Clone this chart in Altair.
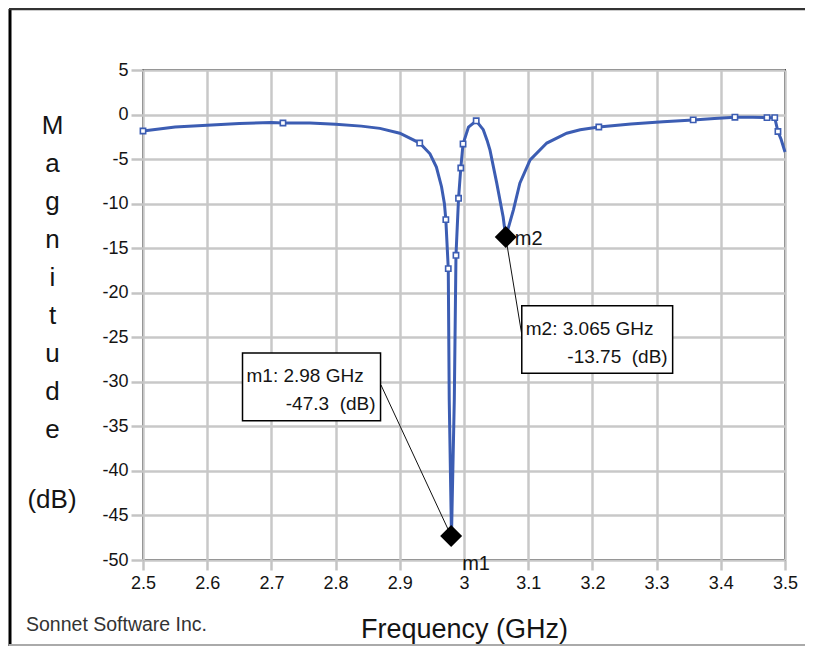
import altair as alt
import pandas as pd

# ---- trace data ----
freq_ghz = [2.5, 2.55, 2.6, 2.65, 2.7, 2.718, 2.76, 2.8, 2.84, 2.869, 2.9, 2.931,
            2.947, 2.957, 2.965, 2.9695, 2.9717, 2.9755, 2.977, 2.9805, 2.9849,
            2.9875, 2.9915, 2.995, 2.9985, 3.007, 3.019, 3.03, 3.036, 3.0405,
            3.051, 3.061, 3.065, 3.077, 3.087, 3.103, 3.129, 3.16, 3.181, 3.21,
            3.26, 3.31, 3.357, 3.39, 3.422, 3.45, 3.472, 3.484, 3.489, 3.494, 3.5]
mag_db = [-1.85, -1.4, -1.2, -1.0, -0.9, -0.95, -0.95, -1.1, -1.3, -1.55, -2.1, -3.2,
          -4.4, -5.9, -8.1, -10.0, -11.8, -17.3, -32.0, -47.3, -32.0,
          -15.8, -9.4, -6.0, -3.3, -1.4, -0.7, -1.7, -2.9, -4.0,
          -7.7, -11.5, -13.75, -10.7, -7.7, -5.1, -3.2, -2.1, -1.7, -1.4,
          -1.05, -0.8, -0.6, -0.45, -0.3, -0.3, -0.35, -0.35, -1.9, -2.8, -4.2]
has_marker = [True, False, False, False, False, True, False, False, False, False, False, True,
              False, False, False, False, True, True, False, False, False,
              True, True, True, True, False, True, False, False, False,
              False, False, False, False, False, False, False, False, False, True,
              False, False, True, False, True, False, True, True, True, False, False]

x_tick_values = [2.5, 2.6, 2.7, 2.8, 2.9, 3.0, 3.1, 3.2, 3.3, 3.4, 3.5]
y_tick_values = [-50, -45, -40, -35, -30, -25, -20, -15, -10, -5, 0, 5]

# ---- markers ----
marker_names = ["m1", "m2"]
marker_freq = [2.98, 3.065]
marker_db = [-47.3, -13.75]
marker_line1 = ["m1: 2.98 GHz", "m2: 3.065 GHz"]
marker_line2 = ["-47.3\u00a0\u00a0(dB)", "-13.75\u00a0\u00a0(dB)"]

# annotation boxes (data coordinates) and connector start points
box_f0 = [2.655, 3.090]
box_f1 = [2.870, 3.325]
box_db_top = [-26.77, -21.46]
box_db_bot = [-34.37, -29.05]
conn_f = [2.8707, 3.0896]
conn_db = [-30.36, -24.52]

BLUE = "#3c5db3"
FONT = "Liberation Sans"
TXT = "#141414"

df = pd.DataFrame({"f": freq_ghz, "db": mag_db, "mk": has_marker})
mk = pd.DataFrame({"name": marker_names, "f": marker_freq, "db": marker_db,
                   "l1": marker_line1, "l2": marker_line2,
                   "bf0": box_f0, "bf1": box_f1, "bt": box_db_top, "bb": box_db_bot,
                   "cf": conn_f, "cdb": conn_db})
one = pd.DataFrame({"k": [0]})

xs = alt.Scale(domain=[2.5, 3.5], nice=False, zero=False)
ys = alt.Scale(domain=[-50, 5], nice=False, zero=False)

X_TITLE = "Frequency (GHz)"
Y_TITLE = ["M", "a", "g", "n", "i", "t", "u", "d", "e"]
Y_UNIT = "(dB)"

x_axis = alt.Axis(values=x_tick_values, labelExpr="'' + datum.value", title=X_TITLE,
                  titleFontSize=27, titleFont=FONT, titleFontWeight="normal", titleColor=TXT,
                  titleY=69, titleBaseline="middle",
                  labelFontSize=18, labelFont=FONT, labelColor=TXT, labelPadding=4,
                  labelFlush=False, labelOverlap=False,
                  tickSize=10, tickColor="#c4c4c4", tickWidth=2.5,
                  grid=True, gridColor="#c8c8c8", gridWidth=2.5, domain=False)
y_axis = alt.Axis(values=y_tick_values, labelExpr="'' + datum.value", title=Y_TITLE,
                  titleAngle=0, titleX=-91, titleY=55, titleAlign="center",
                  titleBaseline="middle", titleLineHeight=38,
                  titleFontSize=26, titleFont=FONT, titleFontWeight="normal", titleColor=TXT,
                  labelFontSize=18, labelFont=FONT, labelColor=TXT, labelPadding=3,
                  labelFlush=False, labelOverlap=False,
                  tickSize=12, tickColor="#c4c4c4", tickWidth=2.5,
                  grid=True, gridColor="#c8c8c8", gridWidth=2.5, domain=False)


def X(field):
    return alt.X(field, scale=xs, axis=x_axis, title=X_TITLE)


def Y(field):
    return alt.Y(field, scale=ys, axis=y_axis, title=Y_TITLE)


line = alt.Chart(df).mark_line(color=BLUE, strokeWidth=3).encode(
    x=X("f:Q"), y=Y("db:Q"),
)

points = alt.Chart(df).transform_filter("datum.mk").mark_point(
    shape="square", filled=True, fill="white", stroke=BLUE, strokeWidth=1.6, size=28, opacity=1
).encode(x=X("f:Q"), y=Y("db:Q"))

connectors = alt.Chart(mk).mark_rule(color="#111", strokeWidth=1).encode(
    x=X("cf:Q"), y=Y("cdb:Q"), x2="f:Q", y2="db:Q",
)

diamonds = alt.Chart(mk).mark_point(shape="diamond", filled=True, color="black",
                                     size=480, opacity=1).encode(x=X("f:Q"), y=Y("db:Q"))

boxes = alt.Chart(mk).mark_rect(fill="white", stroke="black", strokeWidth=1.5).encode(
    x=X("bf0:Q"), x2="bf1:Q", y=Y("bt:Q"), y2="bb:Q",
)

text1 = alt.Chart(mk).mark_text(align="left", baseline="alphabetic", dx=4, dy=29,
                                 font=FONT, fontSize=19, color=TXT).encode(
    x=X("bf0:Q"), y=Y("bt:Q"), text="l1:N",
)
text2 = alt.Chart(mk).mark_text(align="right", baseline="alphabetic", dx=-5, dy=57,
                                 font=FONT, fontSize=19, color=TXT).encode(
    x=X("bf1:Q"), y=Y("bt:Q"), text="l2:N",
)

lab_m1 = alt.Chart(mk).transform_filter("datum.name == 'm1'").mark_text(
    align="left", baseline="middle", dx=11, dy=28, font=FONT, fontSize=20, color=TXT
).encode(x=X("f:Q"), y=Y("db:Q"), text="name:N")
lab_m2 = alt.Chart(mk).transform_filter("datum.name == 'm2'").mark_text(
    align="left", baseline="middle", dx=9, dy=2, font=FONT, fontSize=20, color=TXT
).encode(x=X("f:Q"), y=Y("db:Q"), text="name:N")

unit = alt.Chart(one).mark_text(text=Y_UNIT, align="center", baseline="middle",
                                font=FONT, fontSize=26, color=TXT).encode(
    x=alt.value(-91), y=alt.value(430))

frame_left = alt.Chart(one).mark_rule(color="black", strokeWidth=3).encode(
    x=alt.value(-133), y=alt.value(-61), y2=alt.value(580))
frame_top = alt.Chart(one).mark_rule(color="#333", strokeWidth=2.5).encode(
    x=alt.value(-134), x2=alt.value(670), y=alt.value(-61))
frame_bottom = alt.Chart(one).mark_rule(color="#aaaaaa", strokeWidth=2).encode(
    x=alt.value(-134), x2=alt.value(670), y=alt.value(575))

sonnet = alt.Chart(one).mark_text(text="Sonnet Software Inc.", align="left", baseline="middle",
                                  font=FONT, fontSize=19.5, color="#333").encode(
    x=alt.value(-117), y=alt.value(555))

chart = alt.layer(
    line, points, connectors, diamonds, boxes, text1, text2, lab_m1, lab_m2,
    unit, frame_left, frame_top, frame_bottom, sonnet
).properties(
    width=642, height=490,
    autosize=alt.AutoSizeParams(type="none"),
    padding={"left": 135, "top": 62, "right": 20, "bottom": 86},
    background="white",
).configure_view(stroke="black", strokeWidth=2)

chart.save("out.html", embed_options={"renderer": "svg", "actions": False})
